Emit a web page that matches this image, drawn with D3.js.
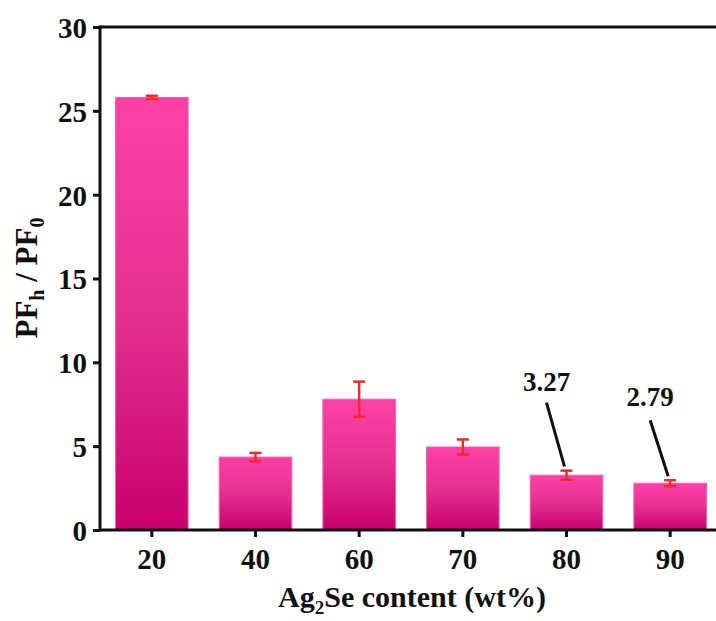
<!DOCTYPE html>
<html>
<head>
<meta charset="utf-8">
<script src="https://cdn.jsdelivr.net/npm/d3@7"></script>
<style>
  body { margin: 0; background: #fff; }
  svg { display: block; }
  text { font-family: "Liberation Serif", "Times New Roman", serif; font-weight: bold; fill: #111; }
</style>
</head>
<body>
<svg id="chart" width="716" height="621"></svg>
<script>
// Ag2Se content (wt%) and the PF_h / PF_0 ratio with its error
const categories = ["20", "40", "60", "70", "80", "90"];
const ratios = [25.8, 4.35, 7.8, 4.95, 3.27, 2.79];
const errors = [0.1, 0.25, 1.05, 0.45, 0.27, 0.18];
const yTicks = [0, 5, 10, 15, 20, 25, 30];
const labelled = [{ cat: "80", text: "3.27" }, { cat: "90", text: "2.79" }];

const svg = d3.select("#chart");
const margin = { left: 100, top: 27, bottom: 91 };
const plotRight = 722;
const H = 621;

const x = d3.scaleBand().domain(categories)
  .range([margin.left, plotRight]).paddingInner(0.3).paddingOuter(0.15);
const y = d3.scaleLinear().domain([0, 30]).range([H - margin.bottom, margin.top]);

// vertical gradient used for every bar
const defs = svg.append("defs");
const grad = defs.append("linearGradient").attr("id", "barGrad")
  .attr("x1", 0).attr("y1", 0).attr("x2", 0).attr("y2", 1);
grad.append("stop").attr("offset", "0%").attr("stop-color", "#ff40a8");
grad.append("stop").attr("offset", "50%").attr("stop-color", "#e5308f");
grad.append("stop").attr("offset", "100%").attr("stop-color", "#c9006d");

// bars
svg.append("g").selectAll("rect").data(categories).join("rect")
  .attr("x", d => x(d))
  .attr("width", x.bandwidth())
  .attr("y", (d, i) => y(ratios[i]))
  .attr("height", (d, i) => y(0) - y(ratios[i]))
  .attr("fill", "url(#barGrad)")
  .attr("stroke", "#f060b0")
  .attr("stroke-width", 1);

// error bars
const eb = svg.append("g").attr("stroke", "#f02a2a").attr("stroke-width", 2.5);
categories.forEach((c, i) => {
  const cx = x(c) + x.bandwidth() / 2;
  const y1 = y(ratios[i] + errors[i]), y2 = y(ratios[i] - errors[i]);
  eb.append("line").attr("x1", cx).attr("x2", cx).attr("y1", y1).attr("y2", y2);
  eb.append("line").attr("x1", cx - 6).attr("x2", cx + 6).attr("y1", y1).attr("y2", y1);
  eb.append("line").attr("x1", cx - 6).attr("x2", cx + 6).attr("y1", y2).attr("y2", y2);
});

// axes
const axisColor = "#111";
const yAxis = svg.append("g").attr("transform", `translate(${margin.left},0)`)
  .call(d3.axisLeft(y).tickValues(yTicks).tickSize(7).tickPadding(6));
const xAxis = svg.append("g").attr("transform", `translate(0,${y(0)})`)
  .call(d3.axisBottom(x).tickSize(7).tickPadding(11));
[yAxis, xAxis].forEach(g => {
  g.select(".domain").remove();
  g.selectAll(".tick line").attr("stroke", axisColor).attr("stroke-width", 3);
  g.selectAll(".tick text").style("font-size", "29px")
    .style("font-family", '"Liberation Serif", serif').style("font-weight", "bold").attr("fill", "#111");
});
yAxis.selectAll(".tick text").attr("dy", "0.36em");

// frame: left, bottom and top lines
const frame = svg.append("g").attr("stroke", axisColor).attr("stroke-width", 3).attr("fill", "none");
frame.append("line").attr("x1", margin.left).attr("x2", margin.left).attr("y1", y(30) - 1.5).attr("y2", y(0) + 1.5);
frame.append("line").attr("x1", margin.left).attr("x2", 716).attr("y1", y(0)).attr("y2", y(0));
frame.append("line").attr("x1", margin.left).attr("x2", 716).attr("y1", y(30)).attr("y2", y(30));

// value call-outs
labelled.forEach(l => {
  const i = categories.indexOf(l.cat);
  const cx = x(l.cat) + x.bandwidth() / 2;
  const top = y(ratios[i] + errors[i]);
  svg.append("line")
    .attr("x1", cx - 2).attr("y1", top - 4)
    .attr("x2", cx - 20).attr("y2", top - (i === 4 ? 68 : 60))
    .attr("stroke", "#111").attr("stroke-width", 3);
  svg.append("text")
    .attr("x", cx - 20).attr("y", top - (i === 4 ? 80 : 74))
    .attr("text-anchor", "middle")
    .style("font-size", "27px")
    .text(l.text);
});

// axis titles
const xt = svg.append("text").attr("x", 412).attr("y", 607).attr("text-anchor", "middle")
  .style("font-size", "30px");
xt.append("tspan").text("Ag");
xt.append("tspan").text("2").attr("dy", 7).style("font-size", "19px");
xt.append("tspan").text("Se content (wt%)").attr("dy", -7);

const yt = svg.append("text").attr("transform", "translate(37,278) rotate(-90)")
  .attr("text-anchor", "middle").style("font-size", "31px");
yt.append("tspan").text("PF");
yt.append("tspan").text("h").attr("dy", 7).style("font-size", "20px");
yt.append("tspan").text(" / PF").attr("dy", -7);
yt.append("tspan").text("0").attr("dy", 7).style("font-size", "20px");
</script>
</body>
</html>
